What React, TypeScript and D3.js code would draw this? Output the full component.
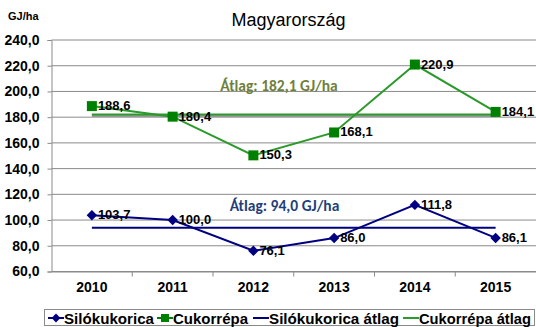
import React, { useEffect, useRef } from "react";
import * as d3 from "d3";

const years = ["2010", "2011", "2012", "2013", "2014", "2015"];
const siloValues = [103.7, 100.0, 76.1, 86.0, 111.8, 86.1];
const cukorValues = [188.6, 180.4, 150.3, 168.1, 220.9, 184.1];
const siloAvg = 94.0;
const cukorAvg = 182.1;
const yTicks = [60, 80, 100, 120, 140, 160, 180, 200, 220, 240];

const width = 536;
const height = 327;
const navy = "#000080";
const green = "#008000";
const greenAvg = "#2e9a2e";
const fmt = (v: number) => d3.format(".1f")(v).replace(".", ",");

export default function App() {
  const ref = useRef<SVGSVGElement>(null);

  useEffect(() => {
    const svg = d3.select(ref.current);
    svg.selectAll("*").remove();
    const font = "'Liberation Sans', Arial, sans-serif";

    const margin = { top: 40, right: 0, bottom: 55.5, left: 51.5 };
    const x = d3.scaleBand().domain(years).range([margin.left, width - margin.right]);
    const y = d3.scaleLinear().domain([60, 240]).range([height - margin.bottom, margin.top]);
    const cx = (d: string) => (x(d) as number) + x.bandwidth() / 2;

    svg.append("rect").attr("width", width).attr("height", height).attr("fill", "#fff");

    // grid
    svg.append("g")
      .selectAll("line")
      .data(yTicks)
      .join("line")
      .attr("x1", margin.left)
      .attr("x2", width)
      .attr("y1", d => y(d))
      .attr("y2", d => y(d))
      .attr("stroke", "#8a8a8a")
      .attr("stroke-width", 1);

    // y axis
    const yAxis = svg.append("g")
      .attr("transform", `translate(${margin.left},0)`)
      .call(d3.axisLeft(y).tickValues(yTicks).tickSize(4).tickFormat(d => fmt(+d)));
    yAxis.select(".domain").attr("stroke", "#8a8a8a");
    yAxis.selectAll(".tick line").attr("stroke", "#8a8a8a");
    yAxis.selectAll("text")
      .attr("font-family", font).attr("font-size", 14).attr("font-weight", "bold").attr("fill", "#000")
      .attr("x", -12);

    // x axis
    const xAxis = svg.append("g")
      .attr("transform", `translate(0,${y(60)})`)
      .call(d3.axisBottom(x).tickSize(0));
    xAxis.select(".domain").attr("stroke", "#8a8a8a");
    xAxis.selectAll("text")
      .attr("font-family", font).attr("font-size", 14).attr("font-weight", "bold").attr("fill", "#000")
      .attr("y", 20).attr("dy", 0);
    svg.append("g")
      .selectAll("line")
      .data(years.slice(1))
      .join("line")
      .attr("x1", d => x(d) as number)
      .attr("x2", d => x(d) as number)
      .attr("y1", y(60))
      .attr("y2", y(60) + 5)
      .attr("stroke", "#8a8a8a");

    // average lines
    const avgLine = (v: number, color: string, w: number) => {
      svg.append("line")
        .attr("x1", cx(years[0])).attr("x2", cx(years[years.length - 1]))
        .attr("y1", y(v)).attr("y2", y(v))
        .attr("stroke", color).attr("stroke-width", w);
    };
    svg.append("line")
      .attr("x1", cx(years[0])).attr("x2", cx(years[years.length - 1]))
      .attr("y1", y(cukorAvg) + 1).attr("y2", y(cukorAvg) + 1)
      .attr("stroke", "#999").attr("stroke-width", 3);
    avgLine(cukorAvg, greenAvg, 2);
    avgLine(siloAvg, navy, 2);

    // series
    const line = d3.line<number>().x((_, i) => cx(years[i])).y(d => y(d));
    svg.append("path").datum(cukorValues).attr("d", line)
      .attr("fill", "none").attr("stroke", "#2a9a2a").attr("stroke-width", 2);
    svg.append("path").datum(siloValues).attr("d", line)
      .attr("fill", "none").attr("stroke", navy).attr("stroke-width", 2);

    svg.append("g").selectAll("rect")
      .data(cukorValues)
      .join("rect")
      .attr("x", (_, i) => cx(years[i]) - 5)
      .attr("y", d => y(d) - 5)
      .attr("width", 10).attr("height", 10)
      .attr("fill", green);
    svg.append("g").selectAll("path")
      .data(siloValues)
      .join("path")
      .attr("d", d3.symbol(d3.symbolDiamond2, 70)())
      .attr("transform", (d, i) => `translate(${cx(years[i])},${y(d)})`)
      .attr("fill", navy);

    // data labels
    const labels = (vals: number[]) => {
      svg.append("g").selectAll("text")
        .data(vals)
        .join("text")
        .attr("x", (_, i) => cx(years[i]) + 6)
        .attr("y", d => y(d) + 4)
        .attr("font-family", font).attr("font-size", 13).attr("font-weight", "bold")
        .text(d => fmt(d));
    };
    labels(cukorValues);
    labels(siloValues);

    // average texts
    svg.append("text")
      .attr("x", 279).attr("y", y(cukorAvg) - 23)
      .attr("text-anchor", "middle")
      .attr("font-family", "Calibri, 'Open Sans', sans-serif").attr("font-size", 15.5).attr("font-weight", "bold")
      .attr("fill", "#6f7f3b")
      .text(`Átlag: ${fmt(cukorAvg)} GJ/ha`);
    svg.append("text")
      .attr("x", 284.5).attr("y", y(siloAvg) - 17)
      .attr("text-anchor", "middle")
      .attr("font-family", "Calibri, 'Open Sans', sans-serif").attr("font-size", 15.5).attr("font-weight", "bold")
      .attr("fill", "#1f3f7a")
      .text(`Átlag: ${fmt(siloAvg)} GJ/ha`);

    // title and unit
    svg.append("text")
      .attr("x", 288.5).attr("y", 26).attr("text-anchor", "middle")
      .attr("font-family", font).attr("font-size", 18)
      .text("Magyarország");
    svg.append("text")
      .attr("x", 8).attr("y", 20)
      .attr("font-family", font).attr("font-size", 11).attr("font-weight", "bold")
      .text("GJ/ha");

    // legend
    const lg = svg.append("g");
    lg.append("rect")
      .attr("x", 44.5).attr("y", 309.5).attr("width", 490).attr("height", 16)
      .attr("fill", "#fff").attr("stroke", "#8a8a8a");
    const items = [
      { name: "Silókukorica", color: navy, marker: "diamond", x: 48, w: 90 },
      { name: "Cukorrépa", color: green, marker: "square", x: 157, w: 75 },
      { name: "Silókukorica átlag", color: navy, marker: "", x: 253, w: 130 },
      { name: "Cukorrépa átlag", color: greenAvg, marker: "", x: 403, w: 112 },
    ];
    items.forEach(it => {
      const g = lg.append("g").attr("transform", `translate(${it.x},318)`);
      g.append("line").attr("x1", 0).attr("x2", 16).attr("stroke", it.color).attr("stroke-width", 2);
      if (it.marker === "diamond") {
        g.append("path").attr("d", d3.symbol(d3.symbolDiamond2, 50)()).attr("transform", "translate(8,0)").attr("fill", it.color);
      } else if (it.marker === "square") {
        g.append("rect").attr("x", 4).attr("y", -4).attr("width", 8).attr("height", 8).attr("fill", it.color);
      }
      g.append("text").attr("x", 16).attr("y", 5.5)
        .attr("font-family", font).attr("font-size", 15).attr("font-weight", "bold")
        .attr("textLength", it.w).attr("lengthAdjust", "spacingAndGlyphs")
        .text(it.name);
    });
  }, []);

  return (
    <svg ref={ref} width={width} height={height} style={{ position: "absolute", left: 0, top: 0 }} />
  );
}
